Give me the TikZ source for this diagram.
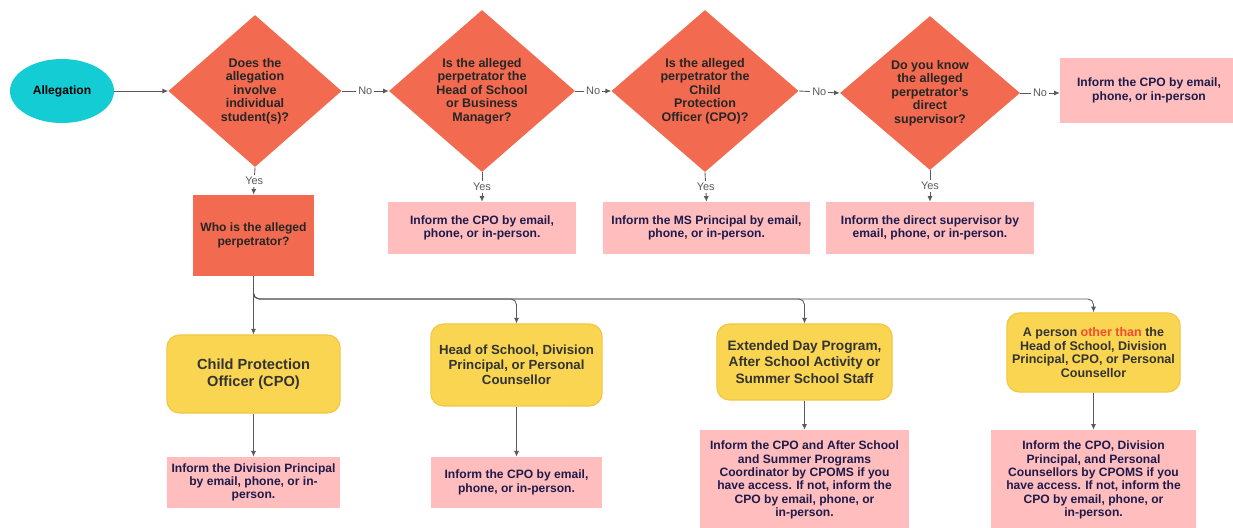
\documentclass[tikz,border=0pt]{standalone}
\usepackage{fontspec}
\setmainfont{Liberation Sans}
\usetikzlibrary{shapes.geometric, arrows.meta}

\definecolor{coral}{HTML}{F26A4F}
\definecolor{aqua}{HTML}{14CDD4}
\definecolor{blush}{HTML}{FFBDBD}
\definecolor{sun}{HTML}{F9D551}
\definecolor{sunline}{HTML}{F2C640}
\definecolor{ink}{HTML}{1E1B4B}
\definecolor{wiregray}{HTML}{5A5A5A}
\definecolor{hot}{HTML}{F04E30}

\begin{document}
\begin{tikzpicture}[x=0.025cm, y=-0.025cm,
    txt/.style={font=\fontsize{8.6}{9.5}\selectfont\bfseries, align=center},
    ask/.style={diamond, fill=coral, inner sep=0pt, txt, font=\fontsize{8.9}{9.6}\selectfont\bfseries, text=black!85},
    tell/.style={rectangle, fill=blush, inner sep=0pt, txt, text=ink},
    who/.style={rectangle, rounded corners=9pt, fill=sun, draw=sunline, line width=0.8pt, inner sep=0pt, txt, text=black!80},
    wire/.style={draw=wiregray, line width=0.6pt, -{Latex[length=4pt,width=3.6pt]}},
    lbl/.style={font=\fontsize{7.8}{9}\selectfont, text=wiregray, fill=white, inner sep=1.5pt}]
        \useasboundingbox (0,0) rectangle (1233,527);

        % top row
        \node[ellipse, fill=aqua, minimum width=2.6cm, minimum height=1.6cm, txt] (alleg) at (62,91) {Allegation};
        \node[ask, minimum width=4.33cm, minimum height=3.8cm] (d1) at (255,91) {Does the\\allegation\\involve\\individual\\student(s)?};
        \node[ask, minimum width=4.65cm, minimum height=4.05cm] (d2) at (482,91) {Is the alleged\\perpetrator the\\Head of School\\or Business\\Manager?};
        \node[ask, minimum width=4.68cm, minimum height=4.05cm] (d3) at (705,91) {Is the alleged\\perpetrator the\\Child\\Protection\\Officer (CPO)?};
        \node[ask, minimum width=4.5cm, minimum height=3.85cm] (d4) at (930,93) {Do you know\\the alleged\\perpetrator's\\direct\\supervisor?};
        \node[tell, minimum width=4.45cm, minimum height=1.625cm] (tail) at (1149,90.5) {Inform the CPO by email,\\phone, or in-person};

        \draw[wire] (alleg) -- (d1);
        \draw[wire] (d1.east) -- node[lbl] {No} (d2.west);
        \draw[wire] (d2.east) -- node[lbl] {No} (d3.west);
        \draw[wire] (d3.east) -- node[lbl] {No} (d4.west);
        \draw[wire] (d4.east) -- node[lbl] {No} (d4.east -| tail.west);

        % yes answers
        \node[rectangle, fill=coral, minimum width=3.03cm, minimum height=2.03cm, inner sep=0pt, txt, text=black!85] (who) at (253.5,235.5) {Who is the alleged\\perpetrator?};
        \node[tell, minimum width=4.7cm, minimum height=1.3cm] (t2) at (482,228) {Inform the CPO by email,\\phone, or in-person.};
        \node[tell, minimum width=5.18cm, minimum height=1.3cm] (t3) at (706.5,228) {Inform the MS Principal by email,\\phone, or in-person.};
        \node[tell, minimum width=5.2cm, minimum height=1.3cm] (t4) at (930,228) {Inform the direct supervisor by\\email, phone, or in-person.};

        \draw[wire] (d1.south) -- node[lbl] {Yes} (who.north);
        \draw[wire] (d2.south) -- node[lbl] {Yes} (t2.north);
        \draw[wire] (d3.south) -- node[lbl] {Yes} (t3.north);
        \draw[wire] (d4.south) -- node[lbl] {Yes} (t4.north);

        % who is it
        \node[who, minimum width=4.33cm, minimum height=1.95cm, font=\fontsize{10.4}{12}\selectfont\bfseries] (y1) at (253.5,374) {Child Protection\\Officer (CPO)};
        \node[who, minimum width=4.28cm, minimum height=2.05cm, font=\fontsize{9.4}{10.7}\selectfont\bfseries] (y2) at (516.5,365) {Head of School, Division\\Principal, or Personal\\Counsellor};
        \node[who, minimum width=4.38cm, minimum height=1.9cm, font=\fontsize{9.7}{12}\selectfont\bfseries] (y3) at (804.5,362) {Extended Day Program,\\After School Activity or\\Summer School Staff};
        \node[who, minimum width=4.33cm, minimum height=1.98cm, font=\fontsize{8.9}{9.6}\selectfont\bfseries] (y4) at (1093.5,352.5) {A person {\color{hot}other than} the\\Head of School, Division\\Principal, CPO, or Personal\\Counsellor};

        \coordinate (split) at (253.5,299);
        \draw[wire] (who.south) -- (y1.north);
        \draw[wire, rounded corners=4pt] (who.south) -- (split) -| (y2.north);
        \draw[wire, rounded corners=4pt] (who.south) -- (split) -| (y3.north);
        \draw[wire, rounded corners=4pt] (who.south) -- (split) -| (y4.north);

        % bottom row
        \node[tell, minimum width=4.33cm, minimum height=1.28cm] (p1) at (253.5,482.5) {Inform the Division Principal\\by email, phone, or in-\\person.};
        \node[tell, minimum width=4.28cm, minimum height=1.28cm] (p2) at (516.5,482.5) {Inform the CPO by email,\\phone, or in-person.};
        \node[tell, minimum width=5.23cm, minimum height=2.5cm] (p3) at (804.5,480) {Inform the CPO and After School\\and Summer Programs\\Coordinator by CPOMS if you\\have access. If not, inform the\\CPO by email, phone, or\\in-person.};
        \node[tell, minimum width=5.13cm, minimum height=2.5cm] (p4) at (1093.5,480) {Inform the CPO, Division\\Principal, and Personal\\Counsellors by CPOMS if you\\have access. If not, inform the\\CPO by email, phone, or\\in-person.};

        \draw[wire] (y1) -- (p1);
        \draw[wire] (y2) -- (p2);
        \draw[wire] (y3) -- (p3);
        \draw[wire] (y4) -- (p4);
\end{tikzpicture}
\end{document}
